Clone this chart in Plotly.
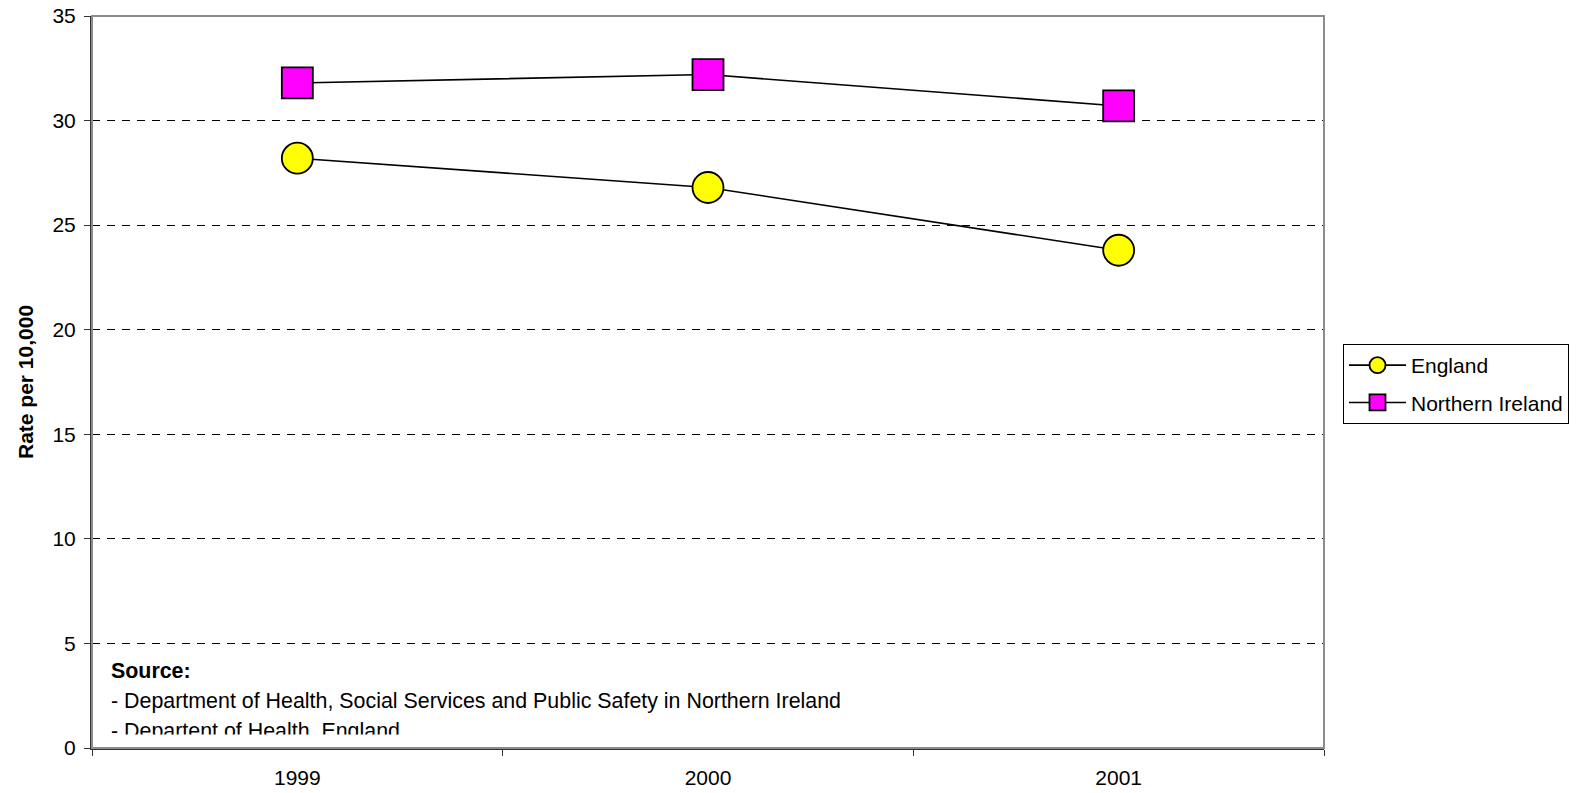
import plotly.graph_objects as go

# values
years = ["1999", "2000", "2001"]
england = [28.2, 26.8, 23.8]
northern_ireland = [31.8, 32.2, 30.7]
y_ticks = [0, 5, 10, 15, 20, 25, 30, 35]
source_lines = [
    "<b>Source:</b>",
    "- Department of Health, Social Services and Public Safety in Northern Ireland",
    "- Departent of Health, England",
]

FONT = "Arial, Liberation Sans, sans-serif"

W, H = 1577, 793
L, R, T, B = 92, 253, 16, 45
plot_w = W - L - R
plot_h = H - T - B


def px_x(pix):
    # pixel column in the page -> paper x
    return (pix - L) / plot_w


def px_y(pix):
    # pixel row in the page -> paper y
    return (H - B - pix) / plot_h


fig = go.Figure()
fig.add_trace(go.Scatter(
    x=years, y=england, name="England", mode="lines+markers",
    legendgroup="eng",
    line=dict(color="black", width=1.6),
    marker=dict(symbol="circle", size=31, color="#ffff00",
                line=dict(color="black", width=1.8)),
))
fig.add_trace(go.Scatter(
    x=years, y=northern_ireland, name="Northern Ireland", mode="lines+markers",
    legendgroup="ni",
    line=dict(color="black", width=1.6),
    marker=dict(symbol="square", size=31, color="#ff00ff",
                line=dict(color="black", width=1.8)),
))

# grey frame round the plot area (left and bottom axis lines drawn on top)
fig.add_shape(type="rect", xref="paper", yref="paper", x0=0, x1=1, y0=0, y1=1,
              line=dict(color="#8c8c8c", width=2), layer="above")

ys = [px_y(671), px_y(701), px_y(731)]
for txt, yy in zip(source_lines, ys):
    fig.add_annotation(text=txt, xref="paper", yref="paper",
                       x=px_x(109), y=yy,
                       xanchor="left", yanchor="middle", showarrow=False,
                       font=dict(family=FONT, size=21.4, color="black"))
# the last source line is cut off by the chart frame in the original
fig.add_annotation(text=" ", xref="paper", yref="paper",
                   x=px_x(100), y=px_y(747),
                   xanchor="left", yanchor="bottom", showarrow=False,
                   width=600, height=11, bgcolor="white", borderpad=0,
                   font=dict(size=8))

fig.add_annotation(text="<b>Rate per 10,000</b>", xref="paper", yref="paper",
                   x=px_x(25), y=0.5, xanchor="center", yanchor="middle",
                   textangle=-90, showarrow=False,
                   font=dict(family=FONT, size=21, color="black"))

fig.update_layout(
    width=W, height=H,
    margin=dict(l=L, r=R, t=T, b=B, autoexpand=False),
    paper_bgcolor="white", plot_bgcolor="white",
    font=dict(family=FONT, size=21, color="black"),
    showlegend=True,
    legend=dict(xref="container", yref="container",
                x=1343 / W, xanchor="left", y=(H - 344) / H, yanchor="top",
                bordercolor="black", borderwidth=1,
                font=dict(family=FONT, size=21, color="black"),
                itemwidth=57, tracegroupgap=7),
    xaxis=dict(
        type="category", range=[-0.5, 2.5], automargin=False,
        showline=True, linecolor="#333333", linewidth=2,
        ticks="outside", tickson="boundaries", ticklen=6,
        tickcolor="#333333", tickwidth=1,
        showgrid=False, zeroline=False,
        tickfont=dict(family=FONT, size=21), ticklabelstandoff=10,
    ),
    yaxis=dict(
        range=[0, 35], tickvals=y_ticks, automargin=False,
        showline=True, linecolor="#333333", linewidth=2,
        ticks="outside", ticklen=6, tickcolor="#333333",
        showgrid=True, gridcolor="black", gridwidth=1, griddash="8px,7px",
        zeroline=False,
        tickfont=dict(family=FONT, size=21), ticklabelstandoff=4,
    ),
)

# the page's default body margin would shift the chart and add scrollbars
fig.write_html("out.html", config={"displayModeBar": False},
               post_script="document.body.style.margin='0px';"
                           "document.body.style.overflow='hidden';")
